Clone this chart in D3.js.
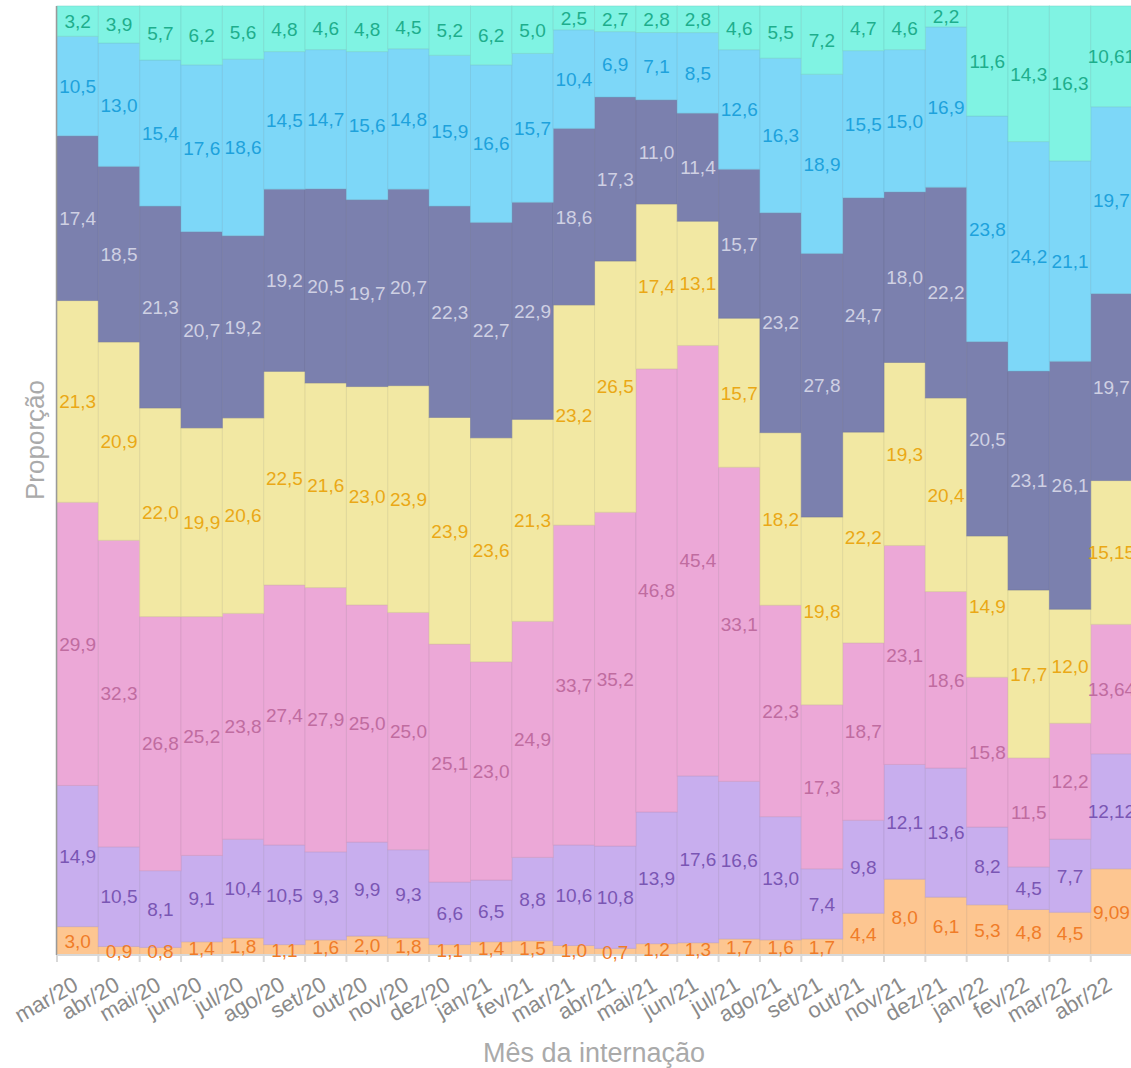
<!DOCTYPE html>
<html>
<head>
<meta charset="utf-8">
<script src="https://cdn.jsdelivr.net/npm/d3@7"></script>
<style>
  body { margin: 0; background: #fff; }
  svg { display: block; font-family: "Liberation Sans", Arial, sans-serif; }
</style>
</head>
<body>
<svg width="1131" height="1068"></svg>
<script>
// months (x categories)
var months = ["mar/20", "abr/20", "mai/20", "jun/20", "jul/20", "ago/20", "set/20", "out/20", "nov/20", "dez/20",
  "jan/21", "fev/21", "mar/21", "abr/21", "mai/21", "jun/21", "jul/21", "ago/21", "set/21", "out/21",
  "nov/21", "dez/21", "jan/22", "fev/22", "mar/22", "abr/22"];

// series, bottom to top
var serieA = [3.0, 0.9, 0.8, 1.4, 1.8, 1.1, 1.6, 2.0, 1.8, 1.1, 1.4, 1.5, 1.0, 0.7, 1.2, 1.3, 1.7, 1.6, 1.7, 4.4, 8.0, 6.1, 5.3, 4.8, 4.5, 9.09];
var serieB = [14.9, 10.5, 8.1, 9.1, 10.4, 10.5, 9.3, 9.9, 9.3, 6.6, 6.5, 8.8, 10.6, 10.8, 13.9, 17.6, 16.6, 13.0, 7.4, 9.8, 12.1, 13.6, 8.2, 4.5, 7.7, 12.12];
var serieC = [29.9, 32.3, 26.8, 25.2, 23.8, 27.4, 27.9, 25.0, 25.0, 25.1, 23.0, 24.9, 33.7, 35.2, 46.8, 45.4, 33.1, 22.3, 17.3, 18.7, 23.1, 18.6, 15.8, 11.5, 12.2, 13.64];
var serieD = [21.3, 20.9, 22.0, 19.9, 20.6, 22.5, 21.6, 23.0, 23.9, 23.9, 23.6, 21.3, 23.2, 26.5, 17.4, 13.1, 15.7, 18.2, 19.8, 22.2, 19.3, 20.4, 14.9, 17.7, 12.0, 15.15];
var serieE = [17.4, 18.5, 21.3, 20.7, 19.2, 19.2, 20.5, 19.7, 20.7, 22.3, 22.7, 22.9, 18.6, 17.3, 11.0, 11.4, 15.7, 23.2, 27.8, 24.7, 18.0, 22.2, 20.5, 23.1, 26.1, 19.70];
var serieF = [10.5, 13.0, 15.4, 17.6, 18.6, 14.5, 14.7, 15.6, 14.8, 15.9, 16.6, 15.7, 10.4, 6.9, 7.1, 8.5, 12.6, 16.3, 18.9, 15.5, 15.0, 16.9, 23.8, 24.2, 21.1, 19.70];
var serieG = [3.2, 3.9, 5.7, 6.2, 5.6, 4.8, 4.6, 4.8, 4.5, 5.2, 6.2, 5.0, 2.5, 2.7, 2.8, 2.8, 4.6, 5.5, 7.2, 4.7, 4.6, 2.2, 11.6, 14.3, 16.3, 10.61];

var series = [serieA, serieB, serieC, serieD, serieE, serieF, serieG];
var keys = ["a", "b", "c", "d", "e", "f", "g"];
var fills = ["#fdc691", "#c8aeee", "#eca8d7", "#f2e8a3", "#7b80ae", "#7dd7f8", "#80f3e3"];
var labelColors = ["#f07c28", "#7a56b4", "#c06ca0", "#eaa816", "#cfd0e3", "#1ea2dc", "#1eae8c"];

var rows = months.map(function(m, i) {
  var r = { month: m };
  keys.forEach(function(k, j) { r[k] = series[j][i]; });
  return r;
});

var svg = d3.select("svg");
var mLeft = 57, mTop = 6, mBottom = 955;
var bw = 41.35;

var x = d3.scaleBand()
  .domain(months)
  .range([mLeft, mLeft + bw * months.length])
  .padding(0);

var y = d3.scaleLinear()
  .domain([0, 1])
  .range([mBottom, mTop]);

var stack = d3.stack().keys(keys).offset(d3.stackOffsetExpand);
var stacked = stack(rows);

function fmt(v) {
  var s = Math.abs(v * 10 - Math.round(v * 10)) < 1e-6 ? v.toFixed(1) : v.toFixed(2);
  return s.replace(".", ",");
}

// bars
var layers = svg.append("g").selectAll("g")
  .data(stacked)
  .enter().append("g")
  .attr("fill", function(d, i) { return fills[i]; })
  .attr("stroke", function(d, i) { return d3.color(fills[i]).darker(0.35); })
  .attr("stroke-width", 1)
  .attr("stroke-opacity", 0.5);

layers.selectAll("rect")
  .data(function(d) { return d; })
  .enter().append("rect")
  .attr("x", function(d) { return x(d.data.month); })
  .attr("y", function(d) { return y(d[1]); })
  .attr("width", x.bandwidth())
  .attr("height", function(d) { return y(d[0]) - y(d[1]); });

// x axis
var xAxis = svg.append("g")
  .attr("transform", "translate(0," + mBottom + ")");
xAxis.append("line")
  .attr("x1", mLeft).attr("x2", 1131)
  .attr("stroke", "#d8d8d8").attr("stroke-width", 2);
xAxis.selectAll(".tk")
  .data(months)
  .enter().append("line")
  .attr("class", "tk")
  .attr("x1", function(d) { return x(d); })
  .attr("x2", function(d) { return x(d); })
  .attr("y1", 0).attr("y2", 7)
  .attr("stroke", "#d8d8d8").attr("stroke-width", 2);
xAxis.selectAll(".lbl")
  .data(months)
  .enter().append("text")
  .attr("class", "lbl")
  .attr("transform", function(d) {
    return "translate(" + (x(d) + x.bandwidth() / 2 + 2) + ",34) rotate(-30)";
  })
  .attr("text-anchor", "end")
  .attr("fill", "#8a8a8a")
  .style("font-size", "22px")
  .text(function(d) { return d; });

// y axis line
svg.append("line")
  .attr("x1", mLeft - 0.5).attr("x2", mLeft - 0.5)
  .attr("y1", mTop).attr("y2", mBottom)
  .attr("stroke", "#9a9a9a").attr("stroke-width", 1.5);

// value labels
var labels = svg.append("g");
stacked.forEach(function(layer, i) {
  labels.selectAll(null)
    .data(layer)
    .enter().append("text")
    .attr("x", function(d) { return x(d.data.month) + x.bandwidth() / 2; })
    .attr("y", function(d) { return (y(d[0]) + y(d[1])) / 2; })
    .attr("dy", "0.36em")
    .attr("text-anchor", "middle")
    .attr("fill", labelColors[i])
    .style("font-size", "19px")
    .text(function(d) { return fmt(d.data[layer.key]); });
});

// axis titles
svg.append("text")
  .attr("x", 594).attr("y", 1062)
  .attr("text-anchor", "middle")
  .attr("fill", "#aaaaaa")
  .style("font-size", "27px")
  .text("Mês da internação");

svg.append("text")
  .attr("transform", "translate(44,440) rotate(-90)")
  .attr("text-anchor", "middle")
  .attr("fill", "#aaaaaa")
  .style("font-size", "26px")
  .text("Proporção");
</script>
</body>
</html>
